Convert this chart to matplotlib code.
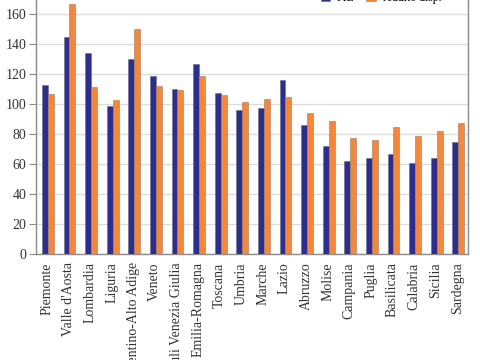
import matplotlib.pyplot as plt
import numpy as np

regioni = ["Piemonte", "Valle d'Aosta", "Lombardia", "Liguria", "Trentino-Alto Adige",
           "Veneto", "Friuli Venezia Giulia", "Emilia-Romagna", "Toscana", "Umbria",
           "Marche", "Lazio", "Abruzzo", "Molise", "Campania", "Puglia", "Basilicata",
           "Calabria", "Sicilia", "Sardegna"]
pil = [112.7, 144.9, 134.2, 98.7, 130.0, 118.4, 109.8, 126.9, 107.3, 96.0,
       97.5, 115.8, 86.0, 72.0, 62.0, 64.0, 66.4, 60.4, 64.0, 74.7]
reddito = [106.5, 166.7, 111.3, 102.4, 149.8, 112.2, 109.6, 118.4, 105.8, 101.6,
           103.1, 104.4, 93.8, 88.6, 77.6, 76.0, 84.7, 78.9, 81.8, 87.6]

plt.rcParams["font.family"] = ["Liberation Serif", "DejaVu Serif"]

fig = plt.figure(figsize=(4.8, 3.6), dpi=100)
ax = fig.add_axes([36 / 480, 106 / 360, 432 / 480, 270 / 360])

x = np.arange(len(regioni))
w = 0.27
ax.bar(x - w / 2 + 0.05, pil, w, color="#2c2e8f", edgecolor="#6a6a80", lw=0.4, label="PIL", zorder=3)
ax.bar(x + w / 2 + 0.05, reddito, w, color="#f5863a", edgecolor="#9a7a66", lw=0.4, label="reddito disp.", zorder=3)

ax.set_xlim(-0.5, len(regioni) - 0.5)
ax.set_ylim(0, 180)
ax.set_yticks(range(0, 161, 20))
ax.set_xticks(x)
ax.set_xticklabels(regioni, rotation=90, fontsize=10, color="#333333")
ax.tick_params(axis="y", labelsize=10, length=5, color="#888888", labelcolor="#333333", pad=2)
ax.tick_params(axis="x", length=0, pad=6)
ax.grid(axis="y", color="#dcdcdc", lw=1, zorder=0)
ax.axhline(180, color="#dcdcdc", lw=1, zorder=0)
for s in ["left", "bottom", "right"]:
    ax.spines[s].set_color("#8c8c8c")
    ax.spines[s].set_linewidth(1)
ax.spines["top"].set_visible(False)

fig.legend(loc="center", bbox_to_anchor=(381 / 480, 1 - (-2) / 360), ncol=2, frameon=False,
           fontsize=8.5, handlelength=0.8, handleheight=0.8, columnspacing=1.0, handletextpad=0.6)

fig.savefig("out.png", dpi=100)
